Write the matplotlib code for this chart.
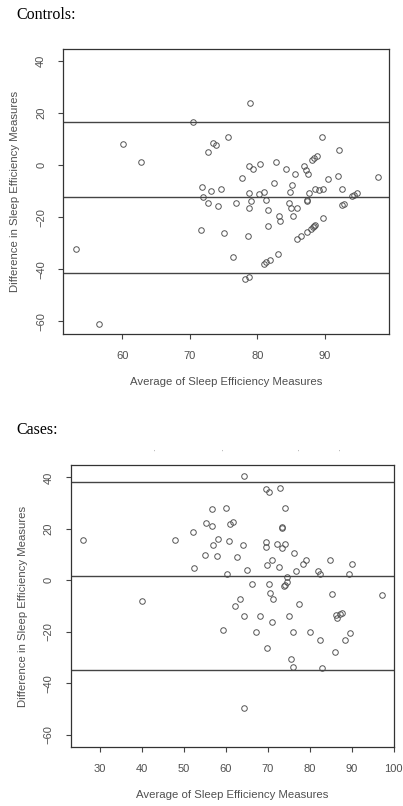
import numpy as np
import matplotlib.pyplot as plt

# Controls: average vs difference of sleep efficiency
ctrl_avg = [60.1, 62.7, 70.4, 78.9, 72.7, 73.4, 73.9, 75.6, 71.8, 73.1, 74.6, 77.7,
            78.7, 78.8, 79.4, 80.4, 80.3, 81.0, 82.5, 82.8, 84.3, 84.9, 85.2, 85.5,
            86.9, 87.2, 87.5, 88.1, 88.4, 88.8, 89.6, 87.7, 88.5, 89.2, 89.7, 90.4,
            91.95, 92.1, 92.6, 94.0, 94.3, 94.8, 97.8,
            71.9, 72.7, 74.2, 76.8, 78.8, 79.1, 81.3, 81.5, 83.2, 83.3, 81.5, 84.7,
            85.0, 85.9, 85.3, 87.4, 87.4, 89.7, 92.6, 92.8, 71.6, 75.1, 78.6, 76.4,
            85.8, 86.5, 87.3, 87.9, 88.2, 88.4, 88.6, 83.0, 81.0, 81.3, 81.9, 78.2,
            78.7, 53.1, 56.6]
ctrl_diff = [8.1, 1.3, 16.7, 23.8, 5.2, 8.7, 7.8, 11.0, -8.5, -10.0, -9.0, -4.8,
             -10.5, -0.4, -1.3, 0.6, -11.2, -10.4, -6.9, 1.4, -1.5, -10.3, -7.5, -3.2,
             -0.4, -1.8, -3.2, 2.0, 2.8, 3.5, 11.0, -10.5, -9.0, -9.4, -9.0, -5.4,
             -4.2, 5.9, -9.0, -11.8, -11.3, -10.5, -4.5,
             -12.3, -14.6, -15.5, -14.4, -16.5, -13.9, -13.3, -17.2, -19.4, -21.5, -23.2, -14.6,
             -16.3, -16.3, -19.6, -13.3, -13.7, -20.4, -15.2, -14.8, -24.9, -25.9, -27.1, -35.3,
             -28.5, -27.2, -25.5, -24.5, -23.9, -23.2, -23.0, -34.2, -38.1, -37.3, -36.5, -43.6,
             -42.8, -32.1, -61.0]
ctrl_lines = [16.7, -12.3, -41.4]  # upper limit, mean, lower limit

# Cases
case_avg = [25.9, 47.95, 52.2, 52.4, 55.1, 55.2, 56.6, 56.8, 57.0, 57.8, 58.1, 60.1,
            60.3, 60.8, 60.9, 61.6, 62.6, 64.1, 64.3, 65.1, 66.2, 63.4, 69.5, 69.6,
            69.6, 70.2, 69.9, 70.2, 70.5, 71.1, 71.2, 72.1, 72.6, 72.9, 73.3, 73.3,
            73.3, 74.0, 74.2, 74.5, 74.6, 74.0, 73.8, 76.2, 76.8, 78.3, 79.0, 81.9,
            82.4, 84.9, 85.3, 89.3, 90.1, 97.1,
            40.1, 62.2, 64.2, 59.2, 67.2, 68.1, 69.7, 70.9, 75.1, 75.6, 75.9, 76.1,
            77.4, 80.1, 82.4, 83.0, 86.0, 86.2, 86.6, 87.3, 87.6, 88.4, 89.7, 64.2]
case_diff = [15.6, 15.8, 18.6, 4.6, 10.0, 22.1, 21.0, 27.6, 13.9, 9.5, 16.1, 28.2,
             2.6, 15.2, 21.8, 22.7, 9.0, 13.9, 40.6, 4.1, -1.6, -7.1, 15.0, 13.0,
             35.5, 34.4, 5.8, -1.6, -5.0, 8.0, -7.2, 14.2, 5.1, 35.7, 20.5, 20.7,
             12.5, 28.2, 14.3, 1.4, -0.5, -1.9, -2.4, 10.6, 3.7, 6.4, 8.0, 3.8,
             2.6, 7.8, -5.5, 2.6, 6.2, -5.9,
             -8.0, -9.9, -13.7, -19.5, -19.9, -13.7, -26.5, -16.2, -13.7, -30.7, -20.1, -33.7,
             -9.1, -19.9, -23.1, -34.0, -28.0, -13.4, -14.7, -13.1, -12.7, -23.1, -20.3, -49.6]
case_lines = [38.4, 1.75, -34.9]

yticks = [-60, -40, -20, 0, 20, 40]
ctrl_xticks = [60, 70, 80, 90]
case_xticks = [30, 40, 50, 60, 70, 80, 90, 100]

W, H = 403, 806
fig = plt.figure(figsize=(W / 100, H / 100), dpi=100)

gray = '#505050'
serif = ['Liberation Serif', 'DejaVu Serif']
sans = ['Liberation Sans', 'DejaVu Sans']


def panel(rect, avg, diff, lines, xticks, xlim):
    l, t, r, b = rect
    ax = fig.add_axes([l / W, 1 - b / H, (r - l) / W, (b - t) / H])
    ax.plot(avg, diff, 'o', ms=4.0, mfc='none', mec='#555555', mew=0.7)
    for v in lines:
        ax.axhline(v, color='#444444', lw=1.0)
    ax.set_xlim(*xlim)
    ax.set_ylim(-64.9, 44.7)
    ax.set_xticks(xticks)
    ax.set_yticks(yticks)
    ax.tick_params(length=3.6, width=0.8, color='#444444', labelcolor=gray,
                   labelsize=8, pad=8.5)
    for lab in ax.get_xticklabels() + ax.get_yticklabels():
        lab.set_family(sans)
    for lab in ax.get_yticklabels():
        lab.set_rotation(90)
        lab.set_va('center')
    for s in ax.spines.values():
        s.set_color('#333333')
        s.set_linewidth(0.9)
    ax.set_xlabel('Average of Sleep Efficiency Measures', fontsize=8.2,
                  color=gray, family=sans, va='center')
    ax.set_ylabel('Difference in Sleep Efficiency Measures', fontsize=8.2,
                  color=gray, family=sans, va='center')
    ax.xaxis.set_label_coords(0.5, -48 / (b - t))
    ax.yaxis.set_label_coords(-47.5 / (r - l), 0.5)
    return ax


panel((63, 49, 389, 334), ctrl_avg, ctrl_diff, ctrl_lines, ctrl_xticks, (51.2, 99.5))
panel((70.7, 465.3, 393.7, 747.3), case_avg, case_diff, case_lines, case_xticks, (23.0, 100.0))

fig.text(16 / W, 1 - 15 / H, 'Controls:', fontsize=11.5, family=serif,
         va='center', ha='left')
fig.text(16 / W, 1 - 430 / H, 'Cases:', fontsize=11.5, family=serif,
         va='center', ha='left')

# small cut-off fragments above the second panel
for xp in [154, 221.7, 297.7, 339.3]:
    fig.text(xp / W, 1 - 453 / H, '\u02c8', fontsize=5, color='#555555',
             ha='center', va='center', family=sans)

fig.savefig('out.png', dpi=100)
